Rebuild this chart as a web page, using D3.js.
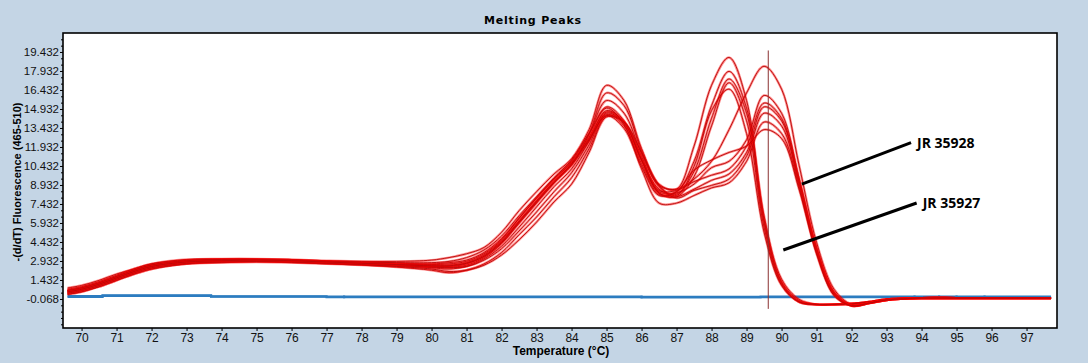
<!DOCTYPE html>
<html>
<head>
<meta charset="utf-8">
<script src="https://cdn.jsdelivr.net/npm/d3@7"></script>
<style>
  body { margin: 0; background: #c4d5e5; }
</style>
</head>
<body>
<div class="content"></div>
<script>
// temperatures (°C) the red melting curves were read at
const temps = [69.6, 70, 70.5, 71, 71.5, 72, 73, 74, 75, 76, 77, 78, 79, 80, 80.5, 81, 81.5, 82, 82.5, 83, 83.5, 84, 84.5, 85, 85.5, 86, 86.5, 87, 87.5, 88, 88.5, 89, 89.5, 90, 90.5, 91, 91.5, 92, 92.5, 93, 94, 95, 96, 97.7]

// samples with the second peak near 88.5
const sampleA1 = [0.8, 1.0, 1.4, 1.9, 2.3, 2.7, 3.05, 3.1, 3.1, 3.05, 2.95, 2.9, 2.9, 3.0, 3.2, 3.5, 4.0, 5.2, 6.9, 8.4, 9.8, 11.0, 13.3, 16.8, 15.6, 11.8, 9.0, 8.6, 12.0, 16.8, 19.0, 15.6, 6.5, 1.5, -0.1, -0.5, -0.5, -0.45, -0.3, -0.1, 0, 0, 0, 0]
const sampleA2 = [0.5, 0.7, 1.1, 1.6, 2.1, 2.5, 2.85, 2.95, 2.95, 2.9, 2.8, 2.7, 2.6, 2.5, 2.5, 2.7, 3.3, 4.4, 6.0, 7.6, 9.2, 10.6, 12.7, 15.1, 14.0, 10.9, 8.4, 8.4, 10.8, 15.2, 17.9, 15.0, 6.2, 1.3, -0.2, -0.5, -0.5, -0.45, -0.3, -0.1, 0, 0, 0, 0]
const sampleA3 = [0.6, 0.8, 1.2, 1.7, 2.2, 2.6, 2.95, 3.05, 3.05, 3.0, 2.9, 2.8, 2.75, 2.7, 2.8, 3.0, 3.6, 4.7, 6.3, 7.9, 9.4, 10.7, 12.6, 14.7, 13.9, 11.0, 8.6, 8.2, 10.0, 14.2, 17.3, 14.6, 6.0, 1.2, -0.3, -0.5, -0.5, -0.45, -0.3, -0.1, 0, 0, 0, 0]
const sampleA4 = [0.3, 0.5, 0.9, 1.4, 1.9, 2.3, 2.7, 2.8, 2.85, 2.8, 2.7, 2.6, 2.45, 2.2, 2.0, 2.2, 2.7, 3.6, 5.0, 6.4, 8.0, 9.5, 11.8, 14.4, 13.9, 11.2, 8.3, 8.0, 9.6, 13.6, 17.0, 14.0, 5.6, 1.1, -0.3, -0.5, -0.5, -0.45, -0.3, -0.1, 0, 0, 0, 0]
const sampleA5 = [0.7, 0.9, 1.3, 1.8, 2.3, 2.7, 3.0, 3.05, 3.05, 3.0, 2.9, 2.8, 2.7, 2.65, 2.7, 2.9, 3.5, 4.6, 6.3, 7.9, 9.4, 10.8, 13.0, 16.2, 15.2, 11.6, 8.8, 8.1, 10.4, 14.8, 16.5, 13.0, 5.2, 1.0, -0.3, -0.5, -0.5, -0.45, -0.3, -0.1, 0, 0, 0, 0]

// samples with the second peak near 89.6
const sampleB1 = [0.4, 0.6, 1.0, 1.5, 2.0, 2.4, 2.8, 2.9, 2.95, 2.9, 2.8, 2.7, 2.6, 2.5, 2.45, 2.6, 3.2, 4.3, 5.9, 7.5, 9.1, 10.5, 12.9, 15.6, 14.6, 11.4, 8.9, 8.6, 9.4, 10.8, 13.3, 16.2, 18.3, 16.5, 10.5, 4.4, 0.7, -0.5, -0.4, -0.15, 0, 0, 0, 0]
const sampleB2 = [0.6, 0.8, 1.2, 1.7, 2.2, 2.6, 2.9, 3.0, 3.0, 2.95, 2.85, 2.75, 2.65, 2.6, 2.6, 2.8, 3.4, 4.5, 6.1, 7.7, 9.2, 10.5, 12.4, 14.5, 13.6, 10.6, 8.2, 8.3, 9.0, 10.3, 10.8, 12.5, 16.0, 14.6, 9.5, 4.0, 0.5, -0.55, -0.4, -0.15, 0, 0, 0, 0]
const sampleB3 = [0.5, 0.7, 1.1, 1.6, 2.1, 2.5, 2.9, 3.0, 3.0, 2.95, 2.85, 2.75, 2.6, 2.4, 2.3, 2.5, 3.1, 4.1, 5.6, 7.2, 8.8, 10.2, 12.4, 14.8, 13.9, 10.9, 8.5, 8.5, 9.2, 9.7, 10.2, 12.0, 15.4, 14.2, 9.3, 3.9, 0.4, -0.6, -0.4, -0.15, 0, 0, 0, 0]
const sampleB4 = [0.3, 0.5, 0.9, 1.4, 1.9, 2.3, 2.7, 2.85, 2.9, 2.85, 2.75, 2.65, 2.55, 2.45, 2.4, 2.5, 3.0, 3.9, 5.3, 6.8, 8.4, 9.9, 12.1, 14.6, 13.8, 10.9, 8.3, 8.0, 8.6, 9.3, 9.8, 11.5, 15.1, 14.0, 9.2, 3.8, 0.4, -0.6, -0.4, -0.15, 0, 0, 0, 0]
const sampleB5 = [0.4, 0.6, 1.0, 1.5, 2.0, 2.4, 2.75, 2.85, 2.9, 2.85, 2.75, 2.65, 2.5, 2.3, 2.1, 2.2, 2.6, 3.4, 4.6, 6.0, 7.6, 9.0, 11.5, 14.3, 13.9, 11.5, 8.9, 7.9, 8.5, 8.9, 9.4, 11.2, 14.6, 13.6, 9.0, 3.7, 0.3, -0.6, -0.4, -0.15, 0, 0, 0, 0]
const sampleB6 = [0.6, 0.8, 1.2, 1.7, 2.2, 2.6, 2.95, 3.05, 3.05, 3.0, 2.9, 2.85, 2.8, 2.8, 2.9, 3.2, 3.8, 4.9, 6.5, 8.0, 9.5, 10.9, 13.0, 15.0, 13.7, 10.2, 7.5, 7.5, 8.1, 8.7, 9.1, 10.8, 13.9, 13.0, 8.8, 3.6, 0.3, -0.6, -0.4, -0.15, 0, 0, 0, 0]
const sampleB7 = [0.5, 0.7, 1.1, 1.6, 2.1, 2.5, 2.85, 2.95, 3.0, 2.95, 2.85, 2.75, 2.65, 2.55, 2.55, 2.75, 3.3, 4.4, 6.0, 7.6, 9.1, 10.6, 12.5, 14.4, 13.4, 10.4, 8.1, 8.4, 10.1, 10.9, 11.5, 12.0, 13.3, 12.6, 8.6, 3.5, 0.2, -0.6, -0.4, -0.15, 0, 0, 0, 0]

const redSamples = [sampleA1, sampleA2, sampleA3, sampleA4, sampleA5, sampleB1, sampleB2, sampleB3, sampleB4, sampleB5, sampleB6, sampleB7]

// flat blue (negative control) traces, step values
const blueTemps = [69.6, 70.6, 73.7, 77.0, 77.5, 86.0, 89.4, 93.8, 94.5, 95.0, 95.8, 97.7]
const blueA = [0.15, 0.22, 0.14, 0.08, 0.12, 0.06, 0.08, 0.12, 0.08, 0.12, 0.08, 0.08]
const blueB = [0.1, 0.18, 0.12, 0.12, 0.08, 0.1, 0.12, 0.08, 0.12, 0.08, 0.12, 0.12]

const xTickLabels = ['70', '71', '72', '73', '74', '75', '76', '77', '78', '79', '80', '81', '82', '83', '84', '85', '86', '87', '88', '89', '90', '91', '92', '93', '94', '95', '96', '97']
const yTickLabels = ['-0.068', '1.432', '2.932', '4.432', '5.932', '7.432', '8.932', '10.432', '11.932', '13.432', '14.932', '16.432', '17.932', '19.432']

// cursor line and sample labels (data units)
const cursorTemp = 89.62
const cursorRange = [-0.85, 19.55]
const labelNames = ['JR 35928', 'JR 35927']
const labelFrom = [[90.58, 9.0], [90.05, 3.8]]
const labelTo = [[93.7, 12.27], [93.86, 7.51]]

const width = 1088
const height = 363
const margin = {top: 33, right: 31, bottom: 35, left: 63}

const x = d3.scaleLinear().domain([69.47, 97.87]).range([margin.left, width - margin.right])
const y = d3.scaleLinear().domain([-2.36, 20.93]).range([height - margin.bottom, margin.top])

const svg = d3.select('div.content')
    .append('svg')
    .attr('width', width)
    .attr('height', height)
    .style('display', 'block')

svg.append('rect')
    .attr('width', width)
    .attr('height', height)
    .attr('fill', '#c4d5e5')

svg.append('defs').append('clipPath')
    .attr('id', 'plot-clip')
    .append('rect')
    .attr('x', margin.left)
    .attr('y', margin.top)
    .attr('width', width - margin.left - margin.right)
    .attr('height', height - margin.top - margin.bottom)

svg.append('rect')
    .attr('x', margin.left)
    .attr('y', margin.top)
    .attr('width', width - margin.left - margin.right)
    .attr('height', height - margin.top - margin.bottom)
    .attr('fill', 'white')

const plot = svg.append('g').attr('clip-path', 'url(#plot-clip)')

// blue traces
const blueLine = d3.line()
    .x((d, i) => x(blueTemps[i]))
    .y(d => y(d))
    .curve(d3.curveStepAfter)
plot.selectAll('path.blue')
    .data([blueA, blueB])
    .join('path')
    .attr('class', 'blue')
    .attr('d', blueLine)
    .attr('fill', 'none')
    .attr('stroke', '#2c7cc0')
    .attr('stroke-width', 2.2)

// red melting curves: soft red halo + thin dark core
const redLine = d3.line()
    .x((d, i) => x(temps[i]))
    .y(d => y(d))
    .curve(d3.curveCatmullRom.alpha(0.5))
const curves = plot.selectAll('g.curve')
    .data(redSamples)
    .join('g')
    .attr('class', 'curve')
curves.append('path')
    .attr('d', redLine)
    .attr('fill', 'none')
    .attr('stroke', '#ff0000')
    .attr('stroke-opacity', 0.45)
    .attr('stroke-width', 2.4)
curves.append('path')
    .attr('d', redLine)
    .attr('fill', 'none')
    .attr('stroke', '#b80808')
    .attr('stroke-width', 0.9)

// cursor
plot.append('line')
    .attr('x1', x(cursorTemp))
    .attr('x2', x(cursorTemp))
    .attr('y1', y(cursorRange[0]))
    .attr('y2', y(cursorRange[1]))
    .attr('stroke', '#8b3030')
    .attr('stroke-width', 1)

// plot border
svg.append('rect')
    .attr('x', margin.left)
    .attr('y', margin.top)
    .attr('width', width - margin.left - margin.right)
    .attr('height', height - margin.top - margin.bottom)
    .attr('fill', 'none')
    .attr('stroke', 'black')
    .attr('stroke-width', 1.6)

// y axis
const yTicks = yTickLabels.map(Number)
const yMinor = d3.range(-2.068, 20.9, 0.5).filter(v => !yTicks.some(t => Math.abs(t - v) < 0.01))
svg.append('g')
    .attr('transform', `translate(${margin.left},0)`)
    .call(d3.axisLeft(y).tickValues(yMinor).tickSize(2).tickFormat(''))
    .call(g => g.select('.domain').remove())
svg.append('g')
    .attr('transform', `translate(${margin.left},0)`)
    .call(d3.axisLeft(y).tickValues(yTicks).tickSize(3).tickPadding(1).tickFormat((d, i) => yTickLabels[i]))
    .call(g => g.select('.domain').remove())
    .call(g => g.selectAll('text')
        .attr('font-family', 'Liberation Sans, Arial, sans-serif')
        .attr('font-size', 11.5)
        .attr('fill', '#111'))

// x axis
svg.append('g')
    .attr('transform', `translate(0,${height - margin.bottom})`)
    .call(d3.axisBottom(x).tickValues(xTickLabels.map(Number)).tickSize(3).tickPadding(2).tickFormat((d, i) => xTickLabels[i]))
    .call(g => g.select('.domain').remove())
    .call(g => g.selectAll('text')
        .attr('font-family', 'Liberation Sans, Arial, sans-serif')
        .attr('font-size', 12)
        .attr('fill', '#111'))

// titles
svg.append('text')
    .attr('x', 533)
    .attr('y', 24)
    .attr('text-anchor', 'middle')
    .attr('font-family', 'DejaVu Sans, sans-serif')
    .attr('font-weight', 'bold')
    .attr('font-size', 11)
    .attr('letter-spacing', 0.8)
    .text('Melting Peaks')

svg.append('text')
    .attr('x', 561)
    .attr('y', 355)
    .attr('text-anchor', 'middle')
    .attr('font-family', 'Liberation Sans, Arial, sans-serif')
    .attr('font-weight', 'bold')
    .attr('font-size', 12)
    .text('Temperature (°C)')

svg.append('text')
    .attr('transform', 'translate(21,182) rotate(-90)')
    .attr('text-anchor', 'middle')
    .attr('font-family', 'Liberation Sans, Arial, sans-serif')
    .attr('font-weight', 'bold')
    .attr('font-size', 11)
    .text('-(d/dT) Fluorescence (465-510)')

// sample annotations
labelNames.forEach((name, i) => {
  svg.append('line')
      .attr('x1', x(labelFrom[i][0]))
      .attr('y1', y(labelFrom[i][1]))
      .attr('x2', x(labelTo[i][0]))
      .attr('y2', y(labelTo[i][1]))
      .attr('stroke', 'black')
      .attr('stroke-width', 3)
  svg.append('text')
      .attr('x', x(labelTo[i][0]) + 6)
      .attr('y', y(labelTo[i][1]) + 5)
      .attr('font-family', 'Open Sans, sans-serif')
      .attr('font-weight', 'bold')
      .attr('font-size', 14)
      .text(name)
})
</script>
</body>
</html>
